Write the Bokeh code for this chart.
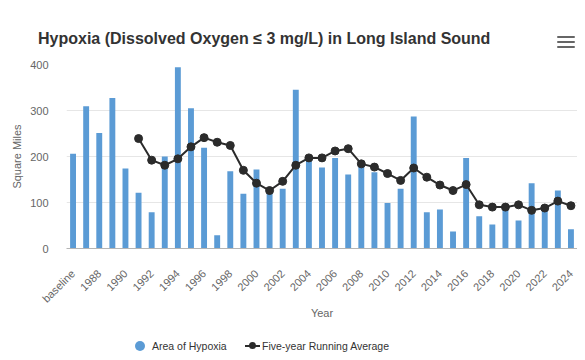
import numpy as np
from bokeh.plotting import figure
from bokeh.layouts import column
from bokeh.models import ColumnDataSource, FixedTicker, Range1d, Div
from bokeh.embed import file_html
from bokeh.resources import INLINE

# ---- data ----
categories = ["baseline"] + [str(y) for y in range(1987, 2025)]
area = [206, 309, 251, 327, 174, 121, 79, 200, 394, 305,
        219, 29, 168, 119, 172, 128, 130, 345, 195, 176,
        197, 161, 181, 166, 99, 130, 287, 79, 85, 37,
        197, 70, 52, 92, 61, 142, 87, 126, 42]
avg_years = [str(y) for y in range(1991, 2025)]
avg_values = [239, 192, 181, 195, 221, 241, 231, 224, 170, 142,
              126, 146, 181, 197, 197, 212, 217, 184, 177, 163,
              148, 175, 155, 138, 126, 139, 95, 90, 90, 95,
              83, 88, 103, 93]
y_ticks = [0, 100, 200, 300, 400]
title_text = "Hypoxia (Dissolved Oxygen \u2264 3 mg/L) in Long Island Sound"
series_names = ["Area of Hypoxia", "Five-year Running Average"]

FONT = "Liberation Sans"
BAR = "#5b9bd5"
LINE = "#2b2b2b"
W = 569
H_HEAD, H_MAIN = 48, 267
H_LEG = 344 - H_HEAD - H_MAIN

# ---- header (title + menu icon) ----
bar_css = "position:absolute;left:549px;width:18px;height:2px;border-radius:1px;background:#666666;"
header_html = (
    f'<div style="position:relative;width:{W}px;height:{H_HEAD}px;background:white;">'
    f'<div style="position:absolute;left:30px;top:23px;line-height:16px;white-space:nowrap;'
    f"font-family:'{FONT}';font-size:16px;font-weight:bold;color:#333333;\">{title_text}</div>"
    f'<div style="{bar_css}top:28px;"></div>'
    f'<div style="{bar_css}top:33px;"></div>'
    f'<div style="{bar_css}top:38px;"></div>'
    '</div>')
header = Div(text=header_html, width=W, height=H_HEAD, margin=0)

# ---- main chart ----
idx = list(range(len(categories)))
bar_src = ColumnDataSource(dict(x=idx, area=area, cat=categories))
avg_idx = [categories.index(y) for y in avg_years]
avg_src = ColumnDataSource(dict(x=avg_idx, v=avg_values))

p = figure(width=W, height=H_MAIN, output_backend="svg", toolbar_location=None,
           x_range=Range1d(-0.5, len(categories) - 0.5),
           y_range=Range1d(0, 400),
           min_border_left=55, min_border_right=0, min_border_top=8,
           min_border_bottom=H_MAIN - 8 - 184, margin=0)
p.outline_line_color = None
p.background_fill_color = "white"
p.border_fill_color = "white"

p.vbar(x="x", top="area", width=0.45, source=bar_src,
       fill_color=BAR, line_color=None)
p.line(x="x", y="v", source=avg_src, line_color=LINE, line_width=2)
p.scatter(x="x", y="v", source=avg_src, size=8, fill_color=LINE, line_color=LINE)

xa = p.xaxis[0]
xa.ticker = FixedTicker(ticks=idx[::2])
xa.major_label_overrides = {i: categories[i] for i in idx}
xa.major_label_orientation = np.pi / 4
xa.major_label_text_font = FONT
xa.major_label_text_font_size = "11px"
xa.major_label_text_color = "#666666"
xa.major_tick_line_color = None
xa.minor_tick_line_color = None
xa.axis_line_color = "#b5b5b5"
xa.axis_label = "Year"
xa.axis_label_text_font = FONT
xa.axis_label_text_font_size = "11px"
xa.axis_label_text_font_style = "normal"
xa.axis_label_text_color = "#666666"
xa.axis_label_standoff = -5
xa.major_label_standoff = 17

ya = p.yaxis[0]
ya.ticker = FixedTicker(ticks=y_ticks)
ya.major_label_text_font = FONT
ya.major_label_text_font_size = "11px"
ya.major_label_text_color = "#666666"
ya.major_tick_line_color = None
ya.minor_tick_line_color = None
ya.axis_line_color = None
ya.axis_label = "Square Miles"
ya.axis_label_text_font = FONT
ya.axis_label_text_font_size = "11px"
ya.axis_label_text_font_style = "normal"
ya.axis_label_text_color = "#666666"
ya.axis_label_standoff = 4
ya.major_label_standoff = 12

p.xgrid.grid_line_color = None
p.ygrid.grid_line_color = "#e6e6e6"

# ---- legend strip ----
cy = 337.8 - H_HEAD - H_MAIN   # legend centre line inside the strip
txt_css = (f"position:absolute;top:{cy - 7:.1f}px;line-height:14px;white-space:nowrap;"
           f"font-family:'{FONT}';font-size:10.5px;color:#333333;")
legend_html = (
    f'<div style="position:relative;width:{W}px;height:{H_LEG}px;background:white;">'
    f'<div style="position:absolute;left:127px;top:{cy - 5:.1f}px;width:10px;height:10px;'
    f'border-radius:50%;background:{BAR};"></div>'
    f'<div style="{txt_css}left:144px;">{series_names[0]}</div>'
    f'<div style="position:absolute;left:237px;top:{cy - 1:.1f}px;width:15px;height:2px;background:{LINE};"></div>'
    f'<div style="position:absolute;left:241px;top:{cy - 3.5:.1f}px;width:7px;height:7px;'
    f'border-radius:50%;background:{LINE};"></div>'
    f'<div style="{txt_css}left:254px;">{series_names[1]}</div>'
    '</div>')
legend = Div(text=legend_html, width=W, height=H_LEG, margin=0)

layout = column(header, p, legend, spacing=0, margin=(8, 0, 0, 8))
open("out.html", "w").write(file_html(layout, INLINE))
